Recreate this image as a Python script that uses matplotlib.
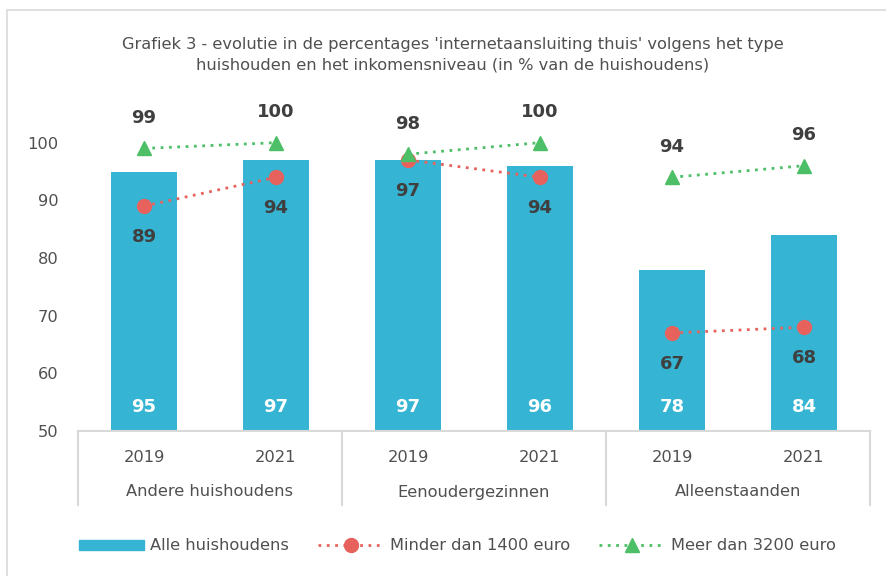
import matplotlib
matplotlib.use("Agg")
import matplotlib.pyplot as plt
from matplotlib.patches import Rectangle
from matplotlib.lines import Line2D
from matplotlib.patches import Patch
import numpy as np

groups = ["Andere huishoudens", "Eenoudergezinnen", "Alleenstaanden"]
years = ["2019", "2021", "2019", "2021", "2019", "2021"]
alle = [95, 97, 97, 96, 78, 84]
minder = [89, 94, 97, 94, 67, 68]
meer = [99, 100, 98, 100, 94, 96]
yticks = [50, 60, 70, 80, 90, 100]

title = ("Grafiek 3 - evolutie in de percentages 'internetaansluiting thuis' volgens het type\n"
         "huishouden en het inkomensniveau (in % van de huishoudens)")

bar_c = "#35b5d3"
red_c = "#e8625d"
green_c = "#4cbf67"
txt_c = "#3f3f3f"
lab_c = "#505050"
grid_c = "#d9d9d9"
FS = 11.7

W, H = 886, 576
fig = plt.figure(figsize=(W / 100, H / 100), dpi=100)
ax = fig.add_axes([78 / W, 1 - 431 / H, (870 - 78) / W, (431 - 85) / H])

x = np.arange(len(alle))
ax.bar(x, alle, width=0.5, bottom=0, color=bar_c, zorder=2)
ax.set_ylim(50, 110)
ax.set_xlim(-0.5, len(alle) - 0.5)

for g in range(len(groups)):
    idx = [2 * g, 2 * g + 1]
    ax.plot(idx, [minder[i] for i in idx], ls=(0, (1, 2)), lw=2, color=red_c,
            marker="o", ms=10, zorder=3)
    ax.plot(idx, [meer[i] for i in idx], ls=(0, (1, 2)), lw=2, color=green_c,
            marker="^", ms=10, zorder=3)

for i in range(len(alle)):
    ax.annotate(str(alle[i]), (x[i], 50), xytext=(0, 17), textcoords="offset points",
                ha="center", va="center", color="white", fontsize=13, fontweight="bold")
    ax.annotate(str(minder[i]), (x[i], minder[i]), xytext=(0, -22), textcoords="offset points",
                ha="center", va="center", color=txt_c, fontsize=13, fontweight="bold", zorder=4)
    ax.annotate(str(meer[i]), (x[i], meer[i]), xytext=(0, 22), textcoords="offset points",
                ha="center", va="center", color=txt_c, fontsize=13, fontweight="bold", zorder=4)

for s in ["top", "right", "left"]:
    ax.spines[s].set_visible(False)
ax.spines["bottom"].set_color(grid_c)
ax.spines["bottom"].set_linewidth(1.5)
ax.set_yticks(yticks)
ax.set_yticklabels([str(v) for v in yticks], fontsize=FS, color=lab_c)
ax.tick_params(axis="y", length=0, pad=14)
ax.set_xticks(x)
ax.set_xticklabels(years, fontsize=FS, color=lab_c)
ax.tick_params(axis="x", length=0, pad=14)

trans = ax.get_xaxis_transform()
for b in [-0.5, 1.5, 3.5, 5.5]:
    ax.plot([b, b], [0, -0.214], transform=trans, color=grid_c, lw=1.5, clip_on=False)
for g, name in enumerate(groups):
    ax.text(2 * g + 0.5, -61 / 346, name, transform=trans, ha="center", va="center",
            fontsize=FS, color=lab_c)

fig.text(453 / W, 1 - 55 / H, title, ha="center", va="center", fontsize=FS,
         color=lab_c, linespacing=1.45)

fig.patches.append(Rectangle((7 / W, -0.1), 1.2, 1 - 10 / H + 0.1, transform=fig.transFigure,
                             fill=False, edgecolor=grid_c, lw=1.2))

handles = [Patch(facecolor=bar_c, edgecolor=bar_c),
           Line2D([], [], ls=(0, (1, 2)), lw=2, color=red_c, marker="o", ms=10),
           Line2D([], [], ls=(0, (1, 2)), lw=2, color=green_c, marker="^", ms=10)]
labels = ["Alle huishoudens", "Minder dan 1400 euro", "Meer dan 3200 euro"]
leg = fig.legend(handles, labels, loc="center", bbox_to_anchor=(457 / W, 1 - 546 / H), ncol=3,
                 frameon=False, fontsize=FS, handlelength=4.0, handleheight=0.6,
                 columnspacing=1.8, handletextpad=0.4)
for t in leg.get_texts():
    t.set_color(lab_c)

fig.savefig("out.png", dpi=100)
